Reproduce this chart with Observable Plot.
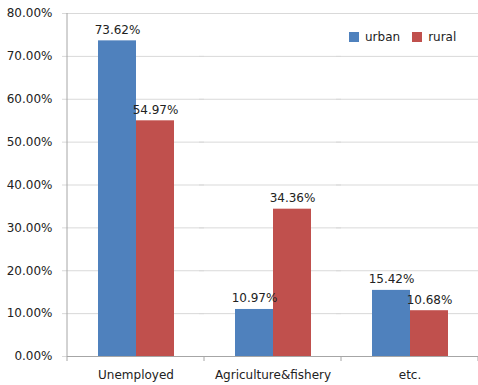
<!DOCTYPE html>
<html><head><meta charset="utf-8">
<script src="https://cdn.jsdelivr.net/npm/d3@7"></script>
<script src="https://cdn.jsdelivr.net/npm/@observablehq/plot@0.6"></script>
<style>
body{margin:0;background:#fff;font-family:"DejaVu Sans",sans-serif}
#chart{position:relative;width:478px;height:385px}
#legend{position:absolute;left:349px;top:20px}
</style></head><body><div id="chart"><div id="legend"></div></div>
<script>
const categories = ["Unemployed", "Agriculture&fishery", "etc."];
const seriesNames = ["urban", "rural"];
const urban = [73.62, 10.97, 15.42];
const rural = [54.97, 34.36, 10.68];
const yTicks = [0, 10, 20, 30, 40, 50, 60, 70, 80];
const colors = ["#4F81BD", "#C0504D"];

const rows = categories.flatMap((c, i) => [
  {category: c, series: "urban", value: urban[i]},
  {category: c, series: "rural", value: rural[i]}
]);
const fmt = v => v.toFixed(2) + "%";
const gridColor = "#d9d9d9";
const axisColor = "#a6a6a6";

const plot = Plot.plot({
  width: 478, height: 385,
  marginLeft: 67, marginRight: 0, marginTop: 13, marginBottom: 29,
  style: {fontFamily: "DejaVu Sans", fontSize: "12px", color: "#222", background: "#fff", overflow: "visible"},
  fx: {domain: categories, padding: 0, label: null},
  x: {domain: seriesNames, axis: null, paddingInner: 0, paddingOuter: 0.77},
  y: {domain: [0, 80], label: null},
  color: {domain: seriesNames, range: colors},
  marks: [
    Plot.gridY(yTicks, {stroke: gridColor, strokeOpacity: 1, insetLeft: -5}),
    Plot.axisY(yTicks, {tickFormat: fmt, tickSize: 0, tickPadding: 15, fill: "#222", label: null}),
    Plot.axisFx({anchor: "bottom", tickSize: 0, tickPadding: 14, label: null, fill: "#222"}),
    Plot.barY(rows, {fx: "category", x: "series", y: "value", fill: "series"}),
    Plot.ruleY([0], {stroke: axisColor}),
    Plot.text(rows, {fx: "category", x: "series", y: "value", text: d => fmt(d.value), dy: -11, fill: "#222", fontSize: 12})
  ]
});

// axis line on the left and category boundary ticks along the baseline
const fxs = plot.scale("fx");
const ys = plot.scale("y");
const svg = d3.select(plot);
const y0 = ys.apply(0), yTop = ys.apply(80);
const edges = categories.map(c => fxs.apply(c)).concat([fxs.apply(categories[categories.length - 1]) + fxs.bandwidth]);
svg.append("line").attr("x1", edges[0]).attr("x2", edges[0]).attr("y1", yTop).attr("y2", y0).attr("stroke", axisColor);
edges.forEach(x => svg.append("line").attr("x1", x).attr("x2", x).attr("y1", y0).attr("y2", y0 + 5).attr("stroke", axisColor));

document.getElementById("chart").prepend(plot);

const legend = Plot.legend({
  color: {domain: seriesNames, range: colors},
  legend: "swatches",
  swatchSize: 10,
  style: {fontSize: "12px", fontFamily: "DejaVu Sans", color: "#222"}
});
document.getElementById("legend").appendChild(legend);
</script></body></html>
